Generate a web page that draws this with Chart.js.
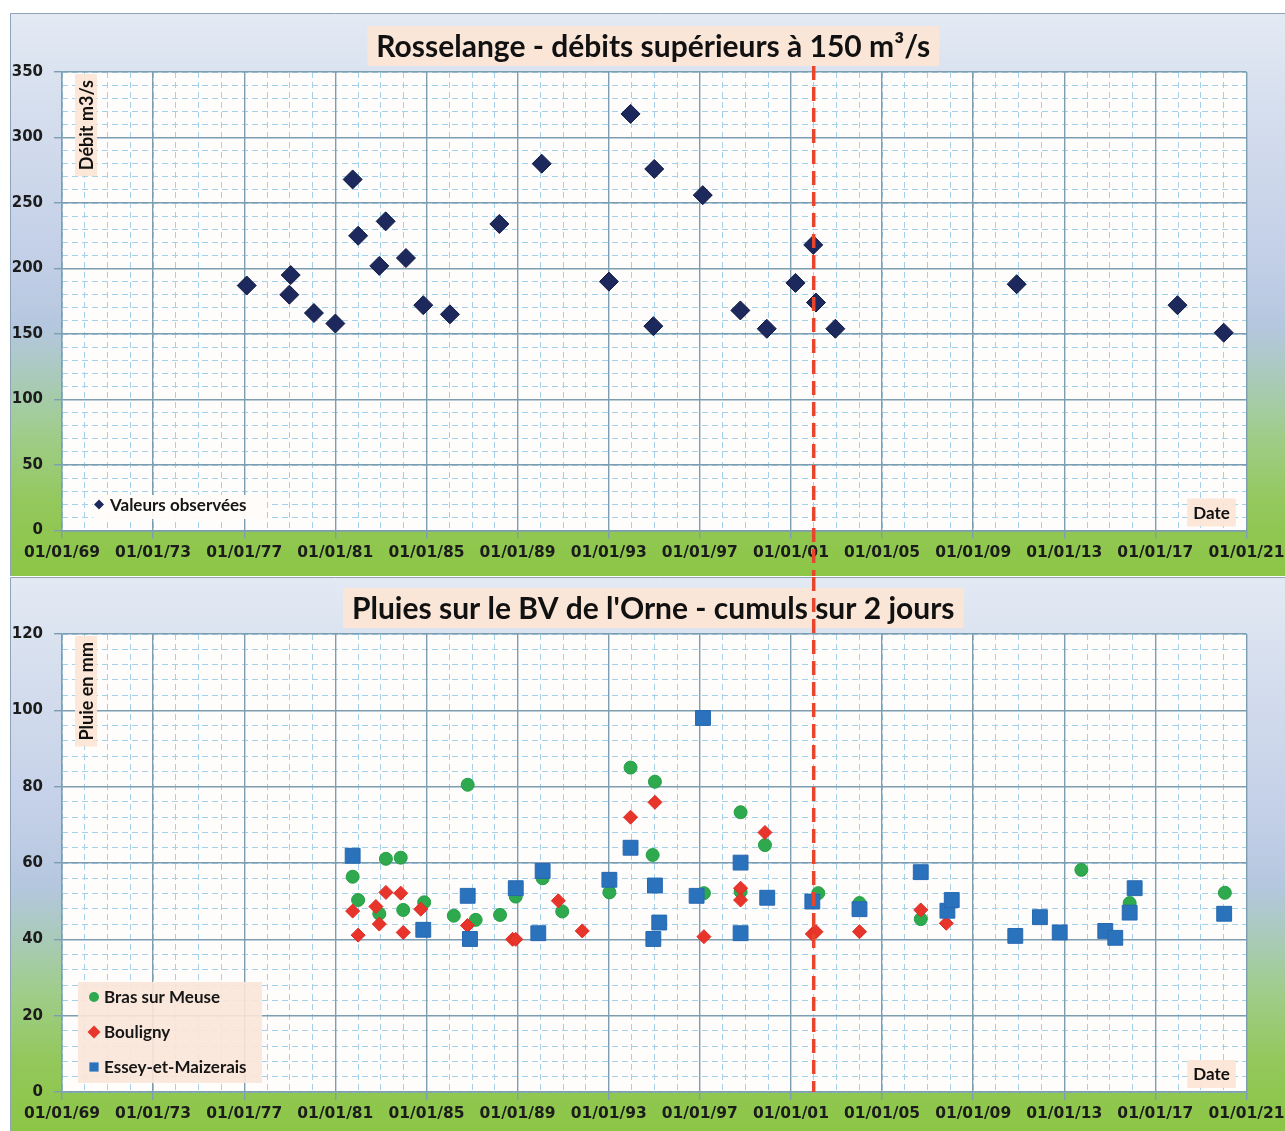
<!DOCTYPE html>
<html>
<head>
<meta charset="utf-8">
<script src="https://cdn.jsdelivr.net/npm/chart.js@4.4.1/dist/chart.umd.min.js"></script>
<style>
  html, body { margin: 0; padding: 0; background: #fff; }
  body { width: 1285px; height: 1131px; position: relative; overflow: hidden; }
  canvas { position: absolute; left: 10px; }
  #c1 { top: 13px; }
  #c2 { top: 577px; }
</style>
</head>
<body>
<canvas id="c1" width="1300" height="563"></canvas>
<canvas id="c2" width="1300" height="554"></canvas>
<script>
// axe des dates (années décimales)
const xMin = 1969
const xMax = 2021
const xTickYears = [1969, 1973, 1977, 1981, 1985, 1989, 1993, 1997, 2001, 2005, 2009, 2013, 2017, 2021]
const xTickLabels = ['01/01/69', '01/01/73', '01/01/77', '01/01/81', '01/01/85', '01/01/89', '01/01/93',
  '01/01/97', '01/01/01', '01/01/05', '01/01/09', '01/01/13', '01/01/17', '01/01/21']
// pointillé rouge
const refYear = 2002.0

// panel 1 : débits Rosselange
const debitDates = [1977.11, 1978.98, 1979.04, 1980.06, 1981.0, 1981.76, 1982.0, 1982.93, 1983.21, 1984.1,
  1984.86, 1986.03, 1988.2, 1990.06, 1993.01, 1993.96, 1994.96, 1995.0, 1997.13, 1998.78,
  1999.94, 2001.2, 2001.98, 2002.1, 2002.95, 2010.91, 2017.97, 2020.0]
const debitValues = [187, 180, 195, 166, 158, 268, 225, 202, 236, 208,
  172, 165, 234, 280, 190, 318, 156, 276, 256, 168,
  154, 189, 218, 174, 154, 188, 172, 151]

// panel 2 : pluies sur 2 jours
const brasDates = [1981.76, 1982.0, 1982.93, 1983.22, 1983.87, 1983.98, 1984.9, 1986.2, 1986.81, 1987.16,
  1988.23, 1988.92, 1990.1, 1990.96, 1993.03, 1993.96, 1994.93, 1995.03, 1997.18, 1998.79,
  1998.79, 1999.86, 2002.2, 2004.01, 2006.7, 2013.75, 2015.87, 2020.05]
const brasValues = [56.4, 50.3, 46.7, 61.1, 61.4, 47.7, 49.7, 46.2, 80.5, 45.1,
  46.4, 51.2, 56.0, 47.3, 52.3, 85.0, 62.1, 81.3, 52.1, 73.3,
  52.5, 64.7, 52.1, 49.5, 45.3, 58.2, 49.5, 52.2]
const bouliDates = [1981.76, 1982.0, 1982.78, 1982.93, 1983.22, 1983.87, 1983.98, 1984.75, 1986.8, 1988.78,
  1988.92, 1990.79, 1991.84, 1993.96, 1995.03, 1997.18, 1998.79, 1998.79, 1999.86, 2001.94,
  2002.1, 2004.01, 2006.7, 2007.82]
const bouliValues = [47.4, 41.1, 48.6, 44.0, 52.3, 52.1, 41.8, 47.9, 43.6, 40.0,
  40.0, 50.1, 42.2, 72.0, 75.9, 40.7, 53.4, 50.3, 68.0, 41.4,
  42.0, 42.0, 47.7, 44.2]
const esseyDates = [1981.76, 1984.86, 1986.81, 1986.91, 1988.92, 1989.91, 1990.1, 1993.03, 1993.96, 1995.03,
  1995.22, 1994.96, 1996.86, 1997.14, 1998.79, 1998.79, 1999.96, 2001.94, 2004.01, 2006.7,
  2007.87, 2008.06, 2010.85, 2011.93, 2012.8, 2014.8, 2015.24, 2015.87, 2016.09, 2020.02]
const esseyValues = [61.9, 42.5, 51.4, 40.1, 53.4, 41.6, 57.9, 55.6, 64.0, 54.1,
  44.4, 40.1, 51.4, 98.0, 60.1, 41.6, 50.9, 49.9, 47.9, 57.6,
  47.5, 50.3, 40.9, 45.8, 41.8, 42.2, 40.4, 47.0, 53.4, 46.7]

const toXY = (xs, ys) => xs.map((x, i) => ({ x: x, y: ys[i] }))
const tickColor = '#1c1c1c'
const majorGrid = '#7d9db1'
const minorGrid = '#a4d0ea'
const peach = 'rgba(252, 229, 213, 0.93)'

const buildScales = (yMax, yStep, yMinorStep, xHeight) => ({
  xMinor: {
    type: 'linear', position: 'bottom', min: xMin, max: xMax,
    ticks: { display: false, stepSize: 1 },
    grid: { color: minorGrid, lineWidth: 1, drawTicks: false, z: -2 },
    border: { display: false, dash: [6, 4] },
    afterFit: s => { s.height = 0 }
  },
  yMinor: {
    type: 'linear', position: 'left', min: 0, max: yMax,
    ticks: { display: false, stepSize: yMinorStep },
    grid: { color: minorGrid, lineWidth: 1, drawTicks: false, z: -2 },
    border: { display: false, dash: [6, 4] },
    afterFit: s => { s.width = 0 }
  },
  x: {
    type: 'linear', position: 'bottom', min: xMin, max: xMax,
    afterBuildTicks: s => { s.ticks = xTickYears.map(v => ({ value: v })) },
    ticks: {
      autoSkip: false, maxRotation: 0, padding: 5, color: tickColor,
      font: { family: 'DejaVu Sans', weight: 'bold', size: 15.5 },
      callback: (v, i) => xTickLabels[i]
    },
    grid: { color: majorGrid, lineWidth: 1.4, tickLength: 8 },
    border: { color: majorGrid, width: 1.4 },
    afterFit: s => { s.height = xHeight }
  },
  y: {
    type: 'linear', position: 'left', min: 0, max: yMax,
    ticks: {
      stepSize: yStep, padding: 11, color: tickColor,
      font: { family: 'DejaVu Sans', weight: 'bold', size: 15 }
    },
    grid: { color: majorGrid, lineWidth: 1.4, tickLength: 8 },
    border: { color: majorGrid, width: 1.4 },
    afterFit: s => { s.width = 52 }
  }
})

const habillage = {
  id: 'habillage',
  beforeDraw (chart, args, o) {
    const { ctx, width, height, chartArea: a } = chart
    ctx.save()
    const g = ctx.createLinearGradient(0, 0, 0, height)
    o.stops.forEach(s => g.addColorStop(s[0], s[1]))
    ctx.fillStyle = g
    ctx.fillRect(0, 0, width, height)
    ctx.strokeStyle = '#8ea3b9'
    ctx.lineWidth = 1
    ctx.beginPath()
    ctx.moveTo(0.5, height)
    ctx.lineTo(0.5, 0.5)
    ctx.lineTo(width, 0.5)
    ctx.stroke()
    ctx.fillStyle = '#fffdfc'
    ctx.fillRect(a.left, a.top, a.right - a.left, a.bottom - a.top)
    ctx.restore()
  },
  afterDraw (chart, args, o) {
    const { ctx, height, chartArea: a } = chart
    ctx.save()
    ctx.textBaseline = 'middle'
    // titre
    ctx.font = 'bold ' + o.titleSize + 'px Lato'
    ctx.textAlign = 'center'
    const cx = (a.left + a.right) / 2 - 1
    const tw = ctx.measureText(o.title).width
    ctx.fillStyle = peach
    ctx.fillRect(cx - tw / 2 - 9, o.titleY - 20, tw + 18, 40)
    ctx.fillStyle = '#111'
    ctx.fillText(o.title, cx, o.titleY + 1)
    // titre axe y
    ctx.font = 'bold 18px Lato'
    ctx.save()
    ctx.translate(a.left + 24, a.top + 8)
    ctx.rotate(-Math.PI / 2)
    ctx.textAlign = 'right'
    const yw = ctx.measureText(o.yTitle).width
    ctx.fillStyle = peach
    ctx.fillRect(-yw - 6, -11, yw + 12, 22)
    ctx.fillStyle = '#111'
    ctx.fillText(o.yTitle, 0, 1)
    ctx.restore()
    // titre axe x
    ctx.font = 'bold 17px Lato'
    ctx.textAlign = 'center'
    const dw = ctx.measureText(o.xTitle).width
    const dx = a.right - 35
    const dy = a.bottom - 18
    ctx.fillStyle = peach
    ctx.fillRect(dx - dw / 2 - 6, dy - 14, dw + 12, 28)
    ctx.fillStyle = '#111'
    ctx.fillText(o.xTitle, dx, dy + 1)
    // légende
    const L = o.legend
    ctx.fillStyle = L.background
    ctx.fillRect(a.left + L.left, a.bottom - L.bottom, L.width, L.height)
    ctx.font = 'bold 17px Lato'
    ctx.textAlign = 'left'
    chart.data.datasets.forEach((ds, i) => {
      const y = a.bottom - L.firstRow + i * L.rowGap
      ctx.fillStyle = ds.backgroundColor
      ctx.strokeStyle = ds.backgroundColor
      Chart.helpers.drawPoint(ctx, { pointStyle: ds.pointStyle, radius: L.radii[i], rotation: 0, borderWidth: 0 },
        a.left + L.markerX, y)
      ctx.fillStyle = '#161616'
      ctx.fillText(ds.label, a.left + L.textX, y + 1)
    })
    // ligne rouge
    const rx = chart.scales.x.getPixelForValue(refYear)
    ctx.strokeStyle = '#e8452c'
    ctx.lineWidth = 3.5
    ctx.setLineDash([14, 7])
    ctx.beginPath()
    ctx.moveTo(rx, o.redTop)
    ctx.lineTo(rx, o.redBottom === 'area' ? a.bottom : height)
    ctx.stroke()
    ctx.restore()
  }
}

const commonOptions = (scales, padTop, hab) => ({
  responsive: false,
  animation: false,
  layout: { padding: { top: padTop, right: 63.5, left: 0, bottom: 0 } },
  plugins: { legend: { display: false }, tooltip: { enabled: false }, habillage: hab },
  scales
})

// panel 1
new Chart(document.getElementById('c1'), {
  type: 'scatter',
  data: {
    datasets: [{
      label: 'Valeurs observées',
      data: toXY(debitDates, debitValues),
      pointStyle: 'rectRot',
      pointRadius: 9.5,
      backgroundColor: '#1d285c',
      borderColor: '#101a44',
      borderWidth: 1
    }]
  },
  options: commonOptions(buildScales(350, 50, 10, 45.5), 59, {
    title: 'Rosselange - débits supérieurs à 150 m³/s',
    titleSize: 30, titleY: 33,
    yTitle: 'Débit m3/s', xTitle: 'Date',
    redTop: 53, redBottom: 'canvas',
    stops: [[0, '#e3eaf4'], [0.16, '#d6dfee'], [0.42, '#c4d0e8'], [0.56, '#b4c7de'],
      [0.65, '#a9cab9'], [0.75, '#9fcd8a'], [0.87, '#93c85c'], [1, '#8cc645']],
    legend: { background: 'rgba(255, 252, 249, 0.95)', left: 31, bottom: 35.5, width: 174, height: 24,
      firstRow: 26, rowGap: 0, markerX: 37, textX: 48, radii: [5] }
  }),
  plugins: [habillage]
})

// panel 2
new Chart(document.getElementById('c2'), {
  type: 'scatter',
  data: {
    datasets: [
      {
        label: 'Bras sur Meuse',
        data: toXY(brasDates, brasValues),
        pointStyle: 'circle',
        pointRadius: 6.5,
        backgroundColor: '#2ea94e',
        borderColor: '#25a045',
        borderWidth: 1,
        order: 3
      },
      {
        label: 'Bouligny',
        data: toXY(bouliDates, bouliValues),
        pointStyle: 'rectRot',
        pointRadius: 7,
        backgroundColor: '#e8352b',
        borderColor: '#e02a22',
        borderWidth: 1,
        order: 2
      },
      {
        label: 'Essey-et-Maizerais',
        data: toXY(esseyDates, esseyValues),
        pointStyle: 'rect',
        pointRadius: 10.5,
        backgroundColor: '#2b72bd',
        borderColor: '#2668b0',
        borderWidth: 1,
        order: 1
      }
    ]
  },
  options: commonOptions(buildScales(120, 20, 4, 39), 57, {
    title: "Pluies sur le BV de l'Orne - cumuls sur 2 jours",
    titleSize: 30, titleY: 31,
    yTitle: 'Pluie en mm', xTitle: 'Date',
    redTop: 0, redBottom: 'area',
    stops: [[0, '#e3eaf4'], [0.16, '#d6dfee'], [0.42, '#c4d0e8'], [0.56, '#b4c7de'],
      [0.65, '#a9cab9'], [0.75, '#9fcd8a'], [0.87, '#93c85c'], [1, '#8cc645']],
    legend: { background: 'rgba(251, 229, 217, 0.9)', left: 16, bottom: 110, width: 184, height: 101,
      firstRow: 95, rowGap: 35, markerX: 32, textX: 42, radii: [5, 6.5, 6.5] }
  }),
  plugins: [habillage]
})
</script>
</body>
</html>
